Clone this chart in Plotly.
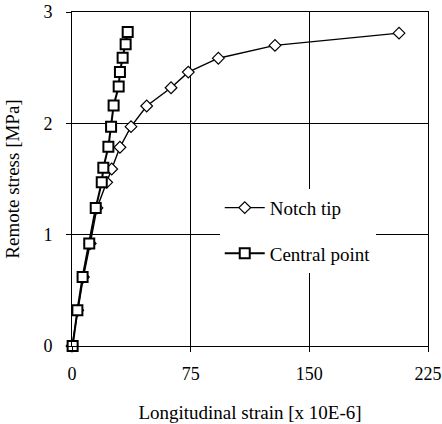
import plotly.graph_objects as go

stress = [0, 0.32, 0.62, 0.92, 1.24, 1.47, 1.60, 1.79, 1.97, 2.16, 2.33, 2.46, 2.59, 2.71, 2.82]
notch_strain = [0, 3.6, 7.2, 11.5, 15.8, 21.9, 25.1, 30.3, 37.3, 47.2, 62.6, 73.5, 92.5, 128.3, 206.7]
stress_notch = [0, 0.32, 0.62, 0.92, 1.24, 1.47, 1.59, 1.785, 1.97, 2.156, 2.32, 2.46, 2.585, 2.70, 2.81]
central_strain = [0.4, 3.4, 6.7, 10.9, 15.0, 18.8, 19.8, 23.0, 24.7, 26.3, 29.5, 30.3, 32.0, 33.9, 35.2]

x_ticks = [0, 75, 150, 225]
y_ticks = [0, 1, 2, 3]

font = "'Liberation Serif', 'Times New Roman', Times, serif"

fig = go.Figure()
fig.add_trace(go.Scatter(
    x=notch_strain, y=stress_notch, name="Notch tip", mode="lines+markers",
    legendgroup="a",
    line=dict(color="black", width=1.4),
    marker=dict(symbol="diamond", size=9, color="white", line=dict(color="black", width=1.2)),
    cliponaxis=False,
))
fig.add_trace(go.Scatter(
    x=central_strain, y=stress, name="Central point", mode="lines+markers",
    legendgroup="b",
    line=dict(color="black", width=2),
    marker=dict(symbol="square", size=10, color="white", line=dict(color="black", width=2)),
    cliponaxis=False,
))

axis_common = dict(
    showline=True, mirror=True, linecolor="black", linewidth=1,
    showgrid=True, gridcolor="black", gridwidth=1, zeroline=False,
    ticks="outside", ticklen=5, tickcolor="black", tickwidth=1,
    tickfont=dict(family=font, size=18, color="black"),
    automargin=False, ticklabeloverflow="allow",
)

fig.update_xaxes(range=[0, 225], tickvals=x_ticks, ticktext=[str(v) for v in x_ticks],
                 ticklabelstandoff=6,
                 title=dict(text="Longitudinal strain [x 10E-6]", font=dict(family=font, size=19, color="black"), standoff=23),
                 **axis_common)
fig.update_yaxes(range=[0, 3], tickvals=y_ticks, ticktext=[str(v) for v in y_ticks],
                 ticklabelstandoff=10,
                 title=dict(text="Remote stress [MPa]", font=dict(family=font, size=19, color="black"), standoff=18),
                 **axis_common)

fig.update_layout(
    width=442, height=424,
    margin=dict(l=72, r=14, t=12, b=78),
    paper_bgcolor="white", plot_bgcolor="white",
    showlegend=True,
    legend=dict(x=0.415, y=0.345, xanchor="left", yanchor="middle",
                bgcolor="white", borderwidth=0,
                font=dict(family=font, size=19, color="black"),
                traceorder="grouped", tracegroupgap=18, itemwidth=40),
)

fig.write_html("out.html")
